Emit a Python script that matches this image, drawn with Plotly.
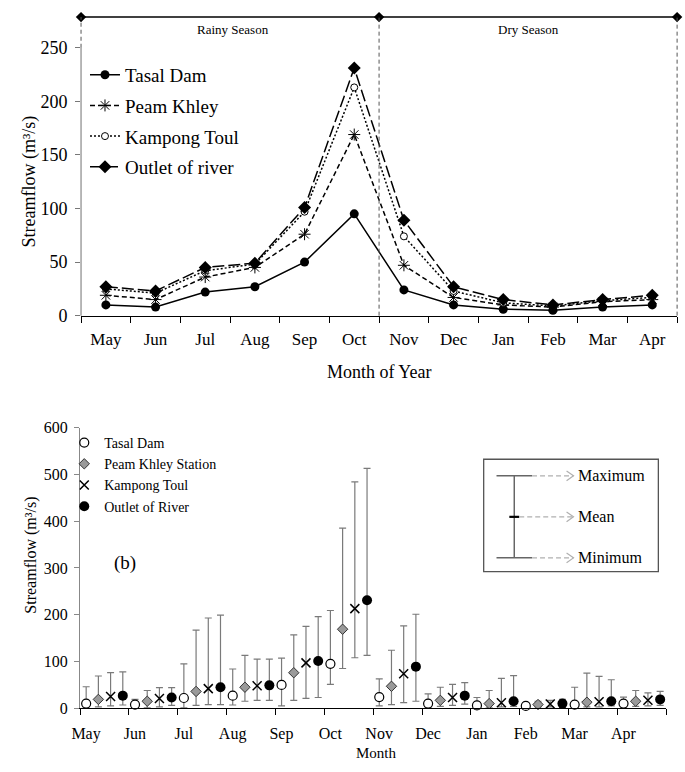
import plotly.graph_objects as go

W, H = 685, 772
FONT = "Liberation Serif"

months = ["May", "Jun", "Jul", "Aug", "Sep", "Oct", "Nov", "Dec", "Jan", "Feb", "Mar", "Apr"]

# ---- Panel (a): mean monthly streamflow ----
tasal_mean = [10, 8, 22, 27, 50, 95, 24, 10, 6, 5, 8, 10]
peam_mean = [19, 15, 36, 45, 76, 169, 47, 17, 10, 8, 13, 15]
kampong_mean = [25, 21, 42, 48, 97, 213, 74, 23, 12, 9, 14, 17]
outlet_mean = [27, 23, 45, 49, 101, 231, 89, 27, 15, 10, 15, 19]

# ---- Panel (b): min / max ----
tasal_max = [46, 19, 95, 84, 107, 209, 63, 31, 23, 7, 45, 24]
tasal_min = [0, 1, 1, 7, 5, 51, 5, 1, 0, 3, 1, 3]
peam_max = [69, 38, 167, 113, 157, 385, 124, 45, 38, 15, 75, 38]
peam_min = [3, 1, 6, 15, 17, 85, 8, 4, 1, 3, 3, 4]
kampong_max = [76, 44, 193, 105, 175, 484, 176, 51, 64, 17, 68, 33]
kampong_min = [5, 3, 8, 17, 21, 108, 12, 6, 3, 3, 3, 5]
outlet_max = [78, 44, 199, 105, 196, 513, 201, 55, 70, 19, 61, 36]
outlet_min = [7, 6, 8, 17, 23, 113, 15, 9, 4, 3, 5, 6]

season_labels = ["Rainy Season", "Dry Season"]


def X(px):
    return px / W


def Y(py):
    return 1 - py / H


# top panel geometry
TOP_YMAX = 280.0
TOP_FRAME = 278.6
tdx = [X(73), X(677)]
tdy = [Y(315), Y(315 - TOP_YMAX * 1.0972)]


def ty(v):  # top data y -> paper
    return tdy[0] + v / TOP_YMAX * (tdy[1] - tdy[0])


def tx(v):  # top data x -> paper (range -0.5..11.5)
    return tdx[0] + (v + 0.5) / 12 * (tdx[1] - tdx[0])


fig = go.Figure()
xi = list(range(12))

# ---------- Top panel ----------
top_series = [
    ("Tasal Dam", tasal_mean, "solid", dict(symbol="circle", size=9, color="black")),
    ("Peam Khley", peam_mean, "5px,3px",
     dict(symbol="asterisk-open", size=10, color="black", line=dict(width=1, color="black"))),
    ("Kampong Toul", kampong_mean, "2px,2px",
     dict(symbol="circle", size=7, color="white", line=dict(width=1, color="black"))),
    ("Outlet of river", outlet_mean, "12px,4px", dict(symbol="diamond", size=10, color="black")),
]
for i, (name, vals, dash, mk) in enumerate(top_series):
    fig.add_trace(go.Scatter(
        x=xi, y=vals, name=name, mode="lines+markers",
        line=dict(color="black", width=1.5, dash=dash), marker=mk,
        xaxis="x", yaxis="y", legend="legend", legendgroup=f"t{i}",
    ))

# season frame markers
fig.add_trace(go.Scatter(
    x=[-0.5, 5.5, 11.5], y=[TOP_FRAME] * 3, mode="markers",
    marker=dict(symbol="diamond", size=8, color="black"), cliponaxis=False,
    showlegend=False, xaxis="x", yaxis="y", hoverinfo="skip",
))

# ---------- Bottom panel ----------
bottom_series = [
    ("Tasal Dam", tasal_mean, tasal_max, tasal_min,
     dict(symbol="circle", size=9, color="white", line=dict(width=1.2, color="black"))),
    ("Peam Khley Station", peam_mean, peam_max, peam_min,
     dict(symbol="diamond", size=8, color="#9a9a9a", line=dict(width=1, color="#333333"))),
    ("Kampong Toul", kampong_mean, kampong_max, kampong_min,
     dict(symbol="x-thin-open", size=9, color="black", line=dict(width=1.5, color="black"))),
    ("Outlet of River", outlet_mean, outlet_max, outlet_min,
     dict(symbol="circle", size=10, color="black")),
]
for k, (name, mean, mx, mn, mk) in enumerate(bottom_series):
    xs = [i + (k + 0.5) / 4 for i in range(12)]
    fig.add_trace(go.Scatter(
        x=xs, y=mean, name=name, mode="markers", marker=mk,
        error_y=dict(type="data", symmetric=False,
                     array=[a - m for a, m in zip(mx, mean)],
                     arrayminus=[m - b for m, b in zip(mean, mn)],
                     color="#7a7a7a", thickness=1.2, width=3.5),
        xaxis="x2", yaxis="y2", legend="legend2", cliponaxis=False,
    ))

# ---------- Shapes ----------
shapes = []
P = dict(xref="paper", yref="paper")
# top y axis line (0..250)
shapes.append(dict(type="line", **P, x0=tx(-0.5), x1=tx(-0.5), y0=ty(0), y1=ty(250),
                   line=dict(color="#888888", width=1.2)))
# season frame
shapes.append(dict(type="line", **P, x0=tx(-0.5), x1=tx(11.5), y0=ty(TOP_FRAME), y1=ty(TOP_FRAME),
                   line=dict(color="black", width=1.5)))
for xv, y0 in [(-0.5, 250), (5.5, 0), (11.5, 0)]:
    shapes.append(dict(type="line", **P, x0=tx(xv), x1=tx(xv), y0=ty(y0), y1=ty(TOP_FRAME),
                       line=dict(color="#555555", width=1, dash="4px,3px")))

# explanation box in panel (b)
shapes.append(dict(type="rect", **P, x0=X(481), x1=X(658), y0=Y(577), y1=Y(462),
                   line=dict(color="#555555", width=1.3)))
shapes.append(dict(type="line", **P, x0=X(512), x1=X(512), y0=Y(563), y1=Y(479),
                   line=dict(color="#666666", width=1.5)))
for yy in [479, 563]:
    shapes.append(dict(type="line", **P, x0=X(494), x1=X(530), y0=Y(yy), y1=Y(yy),
                       line=dict(color="#666666", width=1.5)))
shapes.append(dict(type="line", **P, x0=X(507), x1=X(517), y0=Y(521), y1=Y(521),
                   line=dict(color="black", width=2.2)))
for yy, x0 in [(479, 530), (521, 517), (563, 530)]:
    shapes.append(dict(type="line", **P, x0=X(x0), x1=X(572), y0=Y(yy), y1=Y(yy),
                       line=dict(color="#b0b0b0", width=1.2, dash="5px,3px")))
    shapes.append(dict(type="path", **P,
                       path=f"M {X(565)} {Y(yy - 5)} L {X(572)} {Y(yy)} L {X(565)} {Y(yy + 5)}",
                       line=dict(color="#b0b0b0", width=1.2)))


def ann(text, x, y, size, **kw):
    d = dict(text=text, x=x, y=y, xref="paper", yref="paper", showarrow=False,
             xanchor="center", yanchor="middle", font=dict(size=size, color="black"))
    d.update(kw)
    return d


annotations = [
    ann(season_labels[0], tx(2.55), Y(22), 13),
    ann(season_labels[1], tx(8.5), Y(22), 13),
    ann("Streamflow (m³/s)", X(21), Y(178), 18, textangle=-90),
    ann("Month of Year", X(375), Y(373), 18),
    ann("Streamflow (m³/s)", X(22), Y(560), 16, textangle=-90),
    ann("Month", X(372), Y(763), 15),
    ann("(b)", X(118), Y(568), 19),
]
for txt, yy in [("Maximum", 479), ("Mean", 521), ("Minimum", 563)]:
    annotations.append(ann(txt, X(575), Y(yy), 16, xanchor="left"))

fig.update_layout(
    width=W, height=H,
    margin=dict(l=0, r=0, t=0, b=0),
    paper_bgcolor="white", plot_bgcolor="white",
    font=dict(family=FONT, color="black"),
    shapes=shapes, annotations=annotations,
    xaxis=dict(domain=tdx, range=[-0.5, 11.5],
               tickvals=xi, ticktext=months, ticks="",
               minor=dict(ticks="outside", tick0=-0.5, dtick=1, ticklen=6,
                          tickcolor="black", tickwidth=1),
               showline=True, linecolor="black", linewidth=1.2,
               showgrid=False, zeroline=False, tickfont=dict(size=17),
               ticklabelstandoff=8),
    yaxis=dict(domain=tdy, range=[0, TOP_YMAX],
               tickvals=[0, 50, 100, 150, 200, 250], ticks="outside", ticklen=5,
               tickcolor="#777777", showline=False,
               showgrid=False, zeroline=False, tickfont=dict(size=18),
               ticklabelstandoff=4),
    xaxis2=dict(domain=[X(72), X(666)], range=[0, 12], anchor="y2",
                tickvals=list(range(13)), ticktext=months + [""],
                ticks="outside", ticklen=6, tickcolor="black",
                showline=True, linecolor="black", linewidth=1.2,
                showgrid=False, zeroline=False, tickfont=dict(size=16),
                ticklabelshift=6, ticklabelstandoff=4),
    yaxis2=dict(domain=[Y(717), Y(717 - 600 * 0.4790)], range=[0, 600], anchor="x2",
                tickvals=[0, 100, 200, 300, 400, 500, 600], ticks="outside", ticklen=5,
                tickcolor="#888888", showline=True, linecolor="#888888", linewidth=1.2,
                showgrid=False, zeroline=False, tickfont=dict(size=16),
                ticklabelstandoff=3),
    legend=dict(x=X(77), y=Y(49), xanchor="left", yanchor="top",
                bgcolor="rgba(0,0,0,0)", font=dict(size=19), tracegroupgap=3,
                itemwidth=30),
    legend2=dict(x=X(56), y=Y(429), xanchor="left", yanchor="top",
                 bgcolor="rgba(0,0,0,0)", font=dict(size=14), tracegroupgap=0,
                 itemwidth=30),
    showlegend=True,
)

fig.write_html("out.html", config={"displayModeBar": False},
               post_script="document.body.style.margin='0';")
